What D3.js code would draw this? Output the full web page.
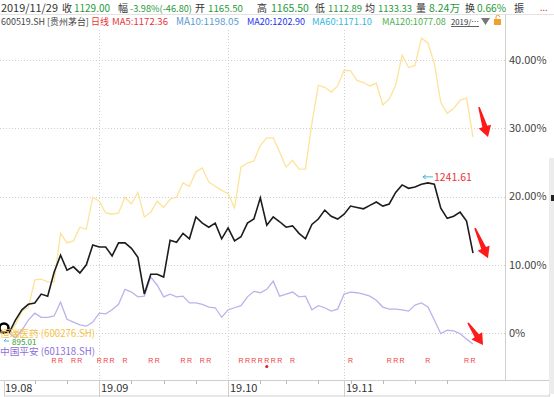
<!DOCTYPE html>
<html><head><meta charset="utf-8">
<script src="https://cdn.jsdelivr.net/npm/d3@7"></script>
<style>
html,body{margin:0;padding:0;background:#fff;}
svg{display:block;font-family:"Noto Sans CJK SC","Noto Sans",sans-serif;}
</style></head>
<body>
<svg id="c" width="554" height="397"></svg>
<script>
// ---------- data ----------
const dates = [
 "2019-08-13","2019-08-14","2019-08-15","2019-08-16","2019-08-19","2019-08-20","2019-08-21","2019-08-22","2019-08-23","2019-08-26","2019-08-27","2019-08-28","2019-08-29","2019-08-30",
 "2019-09-02","2019-09-03","2019-09-04","2019-09-05","2019-09-06","2019-09-09","2019-09-10","2019-09-11","2019-09-12","2019-09-16","2019-09-17","2019-09-18","2019-09-19","2019-09-20","2019-09-23","2019-09-24","2019-09-25","2019-09-26","2019-09-27","2019-09-30",
 "2019-10-08","2019-10-09","2019-10-10","2019-10-11","2019-10-14","2019-10-15","2019-10-16","2019-10-17","2019-10-18","2019-10-21","2019-10-22","2019-10-23","2019-10-24","2019-10-25","2019-10-28","2019-10-29","2019-10-30","2019-10-31",
 "2019-11-01","2019-11-04","2019-11-05","2019-11-06","2019-11-07","2019-11-08","2019-11-11","2019-11-12","2019-11-13","2019-11-14","2019-11-15","2019-11-18","2019-11-19","2019-11-20","2019-11-21","2019-11-22","2019-11-25","2019-11-26","2019-11-27","2019-11-28","2019-11-29"];
// 贵州茅台 (600519.SH) % change
const maotai = [0,1.9,3.4,4.2,4.4,5.7,5.4,8.9,11.4,9.2,9.7,8.8,10.0,12.9,
 12.6,12.6,11.3,13.2,13.2,12.4,11.1,5.7,8.6,8.6,8.2,13.6,13.3,14.6,13.8,17.0,16.1,15.5,16.1,13.8,
 15.4,13.5,14.1,16.1,16.7,19.8,15.8,17.0,16.3,15.5,15.7,14.6,13.8,15.9,16.7,18.0,17.1,16.7,
 17.4,18.6,18.4,18.2,18.7,19.2,18.6,18.9,20.6,21.7,21.2,21.4,21.8,22.0,21.8,18.3,16.8,17.1,17.7,16.4,11.7];
// 恒瑞医药 (600276.SH) % change
const hengrui = [0,1.2,3.2,3.7,7.8,7.9,7.5,7.5,14.6,13.2,13.5,15.5,15.2,19.9,
 19.3,17.6,17.4,17.6,19.9,18.9,20.6,17.0,17.7,19.3,18.4,19.6,19.9,22.0,21.5,23.6,24.2,22.1,21.5,20.9,
 20.4,18.3,24.3,24.9,25.2,27.5,28.6,28.6,26.5,24.3,25.3,24.0,24.0,30.7,36.3,36.0,35.3,36.2,
 38.5,38.4,37.0,36.7,36.2,36.6,33.4,34.3,36.3,40.7,38.9,39.2,43.2,42.5,39.5,33.8,32.2,32.9,34.1,34.4,28.7];
// 中国平安 (601318.SH) % change
const pingan = [0,-0.7,0.4,1.9,2.9,2.3,2.3,2.5,4.5,2.0,1.6,1.2,1.0,1.6,
 2.9,2.8,3.4,4.2,6.4,6.0,5.3,5.4,8.2,7.0,5.3,5.7,5.3,5.4,4.4,4.4,4.2,3.8,3.7,2.3,
 3.4,3.7,4.0,5.3,6.1,5.9,6.4,7.6,5.4,5.7,6.0,5.3,5.4,3.4,4.0,3.7,3.2,3.5,
 5.7,6.0,5.9,5.7,5.4,4.8,3.8,3.5,3.5,3.4,3.2,4.1,4.4,3.8,1.9,-0.1,0.4,0.3,-0.1,-0.9,-1.6];
const yTicks = [0,10,20,30,40];
const yTickLabels = ["0%","10.00%","20.00%","30.00%","40.00%"];
const monthLabels = ["19.08","19.09","19.10","19.11"];
const weekTickIdx = [4,9,14,19,24,29,34,39,43,48,53,58,63,68];
const rIdx = [7,8,10,11,14,15,16,18,22,23,27,28,30,31,36,37,38,39,40,41,42,44,53,59,60,61,65,71,72];
const dotIdx = [40];
const seriesNames = ["恒瑞医药 (600276.SH)","中国平安 (601318.SH)"];
const maxLabel = "1241.61", minLabel = "895.01";
const hdr1Labels = ["收","幅","开","高","低","均","量","换","振"];
const hdr1Values = ["1129.00","-3.98%(-46.80)","1165.50","1165.50","1112.89","1133.33","8.24万","0.66%",""];
const hdrDate = "2019/11/29";
const hdr2Items = ["600519.SH [贵州茅台]","日线","MA5:1172.36","MA10:1198.05","MA20:1202.90","MA60:1171.10","MA120:1077.08","2019/…"];

// ---------- layout ----------
const svg = d3.select("#c");
const axisX = 505.5, plotTop = 30, plotBottom = 380;
const x = d3.scaleLinear().domain([0, dates.length - 1]).range([9, 473]);
const y = d3.scaleLinear().domain([0, 40]).range([333, 60]);

// shrink the font of a text if it is wider than the room it has
function fit(sel, w) {
  const n = sel.node();
  const len = n.getComputedTextLength();
  if (len > w) {
    const fs = parseFloat(getComputedStyle(n).fontSize);
    sel.attr("font-size", (fs * w / len).toFixed(2));
  }
  return sel;
}

// header row 1
const hdr1LabelX = [62,118,195,257,315,365,416,465,514];
const hdr1ValueX = [74,130,208,271,328,378,429,477,0];
const hdr1ValueW = [36,62,35,39,34,34,33,29,0];
const green = "#1f9a3b";
const g1 = svg.append("g").attr("font-size", 10.5);
fit(g1.append("text").attr("x", 1).attr("y", 12).attr("fill", "#333").attr("font-size", 11).text(hdrDate), 57);
hdr1Labels.forEach((t, i) => {
  g1.append("text").attr("x", hdr1LabelX[i]).attr("y", 12).attr("fill", "#333").attr("font-size", 10).text(t);
  if (hdr1Values[i]) fit(g1.append("text").attr("x", hdr1ValueX[i]).attr("y", 12).attr("fill", green).text(hdr1Values[i]), hdr1ValueW[i]);
});
g1.append("text").attr("x", 540).attr("y", 11).attr("fill", "#e33").attr("font-size", 9).text("...");
svg.append("line").attr("x1", 0).attr("x2", 554).attr("y1", 14.5).attr("y2", 14.5).attr("stroke", "#e2e2e2");

// header row 2
const hdr2X = [1,91,112,176,247,312,382,451];
const hdr2W = [88,18,56,63,58,60,64,28];
const hdr2C = ["#444","#e8343a","#e8343a","#5b9bd5","#2233ee","#35b8e0","#4caf50","#333"];
const g2 = svg.append("g").attr("font-size", 10.5);
hdr2Items.forEach((t, i) => {
  const tx = fit(g2.append("text").attr("x", hdr2X[i]).attr("y", 25).attr("fill", hdr2C[i]).text(t), hdr2W[i]);
  if (i === hdr2Items.length - 1) tx.attr("text-decoration", "underline");
});
g2.append("path").attr("d", "M481,18 L490,18 L485.5,25 Z").attr("fill", "#777");
g2.append("rect").attr("x", 494).attr("y", 19).attr("width", 7).attr("height", 6).attr("fill", "#f0a030");
g2.append("path").attr("d", "M496,19 v-2 a1.8,1.8 0 0 1 3.6,0").attr("fill", "none").attr("stroke", "#f0a030").attr("stroke-width", 1);

// gridlines
const grid = svg.append("g");
grid.selectAll("line.h").data(yTicks).join("line")
  .attr("x1", 0).attr("x2", axisX).attr("y1", d => Math.round(y(d)) + 0.5).attr("y2", d => Math.round(y(d)) + 0.5)
  .attr("stroke", "#cfcfcf").attr("stroke-dasharray", "1,2");
const monthStart = [];
dates.forEach((d, i) => { if (i > 0 && d.slice(5, 7) !== dates[i - 1].slice(5, 7)) monthStart.push(i); });
grid.selectAll("line.v").data(monthStart).join("line")
  .attr("x1", d => Math.round(x(d)) + 0.5).attr("x2", d => Math.round(x(d)) + 0.5)
  .attr("y1", plotTop).attr("y2", plotBottom)
  .attr("stroke", "#cfcfcf").attr("stroke-dasharray", "1,2");

// right axis
svg.append("line").attr("x1", axisX).attr("x2", axisX).attr("y1", 14.5).attr("y2", plotBottom).attr("stroke", "#d0d0d0");
svg.append("g").attr("font-size", 11).attr("fill", "#444")
  .selectAll("text").data(yTicks).join("text")
  .attr("x", 509).attr("y", d => y(d)).attr("dy", "0.35em").text((d, i) => yTickLabels[i]);

// bottom date bar
svg.append("line").attr("x1", 0).attr("x2", axisX).attr("y1", plotBottom + 0.5).attr("y2", plotBottom + 0.5).attr("stroke", "#d0d0d0");
svg.append("rect").attr("x", 4.5).attr("y", plotBottom + 0.5).attr("width", 545).attr("height", 15.5)
  .attr("fill", "none").attr("stroke", "#cfcfcf");
svg.selectAll("line.wk").data(weekTickIdx).join("line")
  .attr("x1", d => Math.round(x(d)) + 0.5).attr("x2", d => Math.round(x(d)) + 0.5)
  .attr("y1", plotBottom).attr("y2", plotBottom + 4).attr("stroke", "#bbb");
svg.selectAll("line.mo").data(monthStart).join("line")
  .attr("x1", d => Math.round(x(d)) + 0.5).attr("x2", d => Math.round(x(d)) + 0.5)
  .attr("y1", plotBottom).attr("y2", 397).attr("stroke", "#cfcfcf");
const monthX = [5].concat(monthStart.map(i => Math.round(x(i)) + 2));
svg.append("g").attr("font-size", 11).attr("fill", "#333")
  .selectAll("text").data(monthLabels).join("text")
  .attr("x", (d, i) => monthX[i]).attr("y", 392).text(d => d);

// scrollbar hint at right edge
svg.append("rect").attr("x", 549).attr("y", 158).attr("width", 5).attr("height", 236).attr("fill", "#ececec");
svg.append("rect").attr("x", 551).attr("y", 195).attr("width", 3).attr("height", 6).attr("fill", "#222");

// R markers
svg.append("g").attr("font-size", 7).attr("fill", "#f03c3c").attr("text-anchor", "middle").attr("font-family", "Arial, Liberation Sans, sans-serif")
  .selectAll("text").data(rIdx).join("text").attr("x", d => x(d)).attr("y", 363).text("R");
svg.selectAll("circle.dot").data(dotIdx).join("circle")
  .attr("cx", d => x(d)).attr("cy", 366.5).attr("r", 1.6).attr("fill", "#e02020");

// lines
const line = d3.line().x((d, i) => x(i)).y(d => y(d));
svg.append("path").datum(hengrui).attr("d", line).attr("fill", "none").attr("stroke", "#fde39a").attr("stroke-width", 1.3);
svg.append("path").datum(pingan).attr("d", line).attr("fill", "none").attr("stroke", "#bfb0ec").attr("stroke-width", 1.3);
svg.append("path").datum(maotai).attr("d", line).attr("fill", "none").attr("stroke", "#1c1c1c").attr("stroke-width", 1.6);

// max label
const iMax = d3.maxIndex(maotai);
const mx = x(iMax), my = y(maotai[iMax]);
svg.append("path").attr("d", `M${mx - 5},${my - 6} L${mx + 5},${my - 6} M${mx - 5},${my - 6} l3,-2 M${mx - 5},${my - 6} l3,2`)
  .attr("stroke", "#4cb8d8").attr("fill", "none").attr("stroke-width", 1);
fit(svg.append("text").attr("x", mx + 6).attr("y", my - 2).attr("font-size", 11).attr("fill", "#e8343a").text(maxLabel), 38);

// min label near start
const sx = x(0), sy = y(0);
svg.append("path").attr("d", `M${sx - 5},${sy + 8} l5,0 M${sx - 5},${sy + 8} l2,-2`).attr("stroke", "#4cb8d8").attr("fill", "none").attr("stroke-width", 1);
fit(svg.append("text").attr("x", sx + 3).attr("y", sy + 12).attr("font-size", 8).attr("fill", "#2ca02c").text(minLabel), 29);

// start marker circle
svg.append("circle").attr("cx", sx - 5).attr("cy", sy - 5).attr("r", 4.5).attr("fill", "#fff").attr("stroke", "#000").attr("stroke-width", 2.6);

// series labels
fit(svg.append("text").attr("x", 0).attr("y", sy + 4).attr("font-size", 10.5).attr("fill", "#f6c343").text(seriesNames[0]), 95);
fit(svg.append("text").attr("x", 0).attr("y", sy + 22).attr("font-size", 10.5).attr("fill", "#8d6ed8").text(seriesNames[1]), 95);

// red arrows pointing at last values
const last = dates.length - 1;
const arrowSpec = [
  {v: hengrui[last], ox: 15, oy: 0, dx: 9, dy: 30},
  {v: maotai[last], ox: 15, oy: 5, dx: 13, dy: 30},
  {v: pingan[last], ox: 10, oy: 1, dx: 15, dy: 22}
];
arrowSpec.forEach(a => {
  const tx = x(last) + a.ox, ty = y(a.v) + a.oy;
  const L = Math.hypot(a.dx, a.dy), ux = a.dx / L, uy = a.dy / L, nx = -uy, ny = ux;
  const bx = tx - ux * 11, by = ty - uy * 11;   // head base
  const t0x = tx - a.dx, t0y = ty - a.dy;        // tail
  const pts = [
    [t0x + nx * 0.8, t0y + ny * 0.8],
    [bx + nx * 2.6, by + ny * 2.6],
    [bx + nx * 6.5, by + ny * 6.5],
    [tx, ty],
    [bx - nx * 6.5, by - ny * 6.5],
    [bx - nx * 2.6, by - ny * 2.6],
    [t0x - nx * 0.8, t0y - ny * 0.8]
  ];
  svg.append("path").attr("d", "M" + pts.map(p => p.join(",")).join("L") + "Z").attr("fill", "#ff1a1a");
});
</script>
</body></html>
